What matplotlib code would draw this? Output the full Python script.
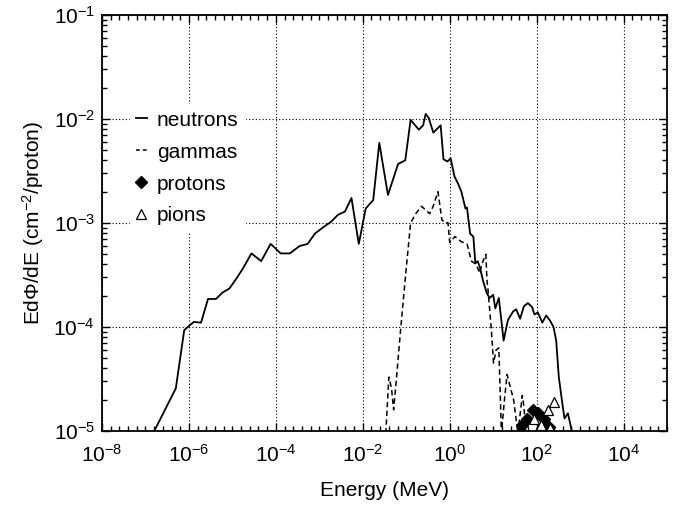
import numpy as np
import matplotlib
matplotlib.use("Agg")
import matplotlib.pyplot as plt
from matplotlib.ticker import FixedLocator, LogFormatterSciNotation, NullFormatter
from matplotlib.lines import Line2D

plt.rcParams["font.family"] = ["Liberation Sans", "DejaVu Sans"]
plt.rcParams["mathtext.default"] = "regular"

# neutron spectrum
neutron_e = [1.5e-7, 5.0e-7, 7.8e-7, 8.9e-7, 1.3e-6, 1.9e-6, 2.75e-6, 4.2e-6, 5.9e-6, 8.5e-6,
             1.26e-5, 1.78e-5, 2.75e-5, 4.6e-5, 7.6e-5, 1.29e-4, 2.1e-4, 3.5e-4, 5.4e-4, 7.9e-4,
             1.23e-3, 1.82e-3, 2.7e-3, 3.9e-3, 5.5e-3, 8.1e-3, 1.17e-2, 1.74e-2, 2.4e-2, 3.8e-2,
             6.5e-2, 9.5e-2, 0.126, 0.195, 0.245, 0.28, 0.33, 0.42, 0.62, 0.72,
             0.89, 1.05, 1.29, 1.55, 1.86, 2.3, 2.5, 2.95, 3.5, 3.9,
             4.4, 4.9, 5.9, 7.2, 8.3, 10.0, 11.2, 13.5, 17.4, 21.9,
             28.8, 33.9, 41.7, 51.0, 63.0, 79.0, 89.0, 107.0, 135.0, 166.0,
             204.0, 245.0, 282.0, 324.0, 389.0, 437.0, 525.0, 661.0]
neutron_flux = [9.5e-6, 2.57e-5, 9.3e-5, 9.8e-5, 1.12e-4, 1.10e-4, 1.86e-4, 1.86e-4, 2.14e-4, 2.34e-4,
                2.95e-4, 3.7e-4, 5.1e-4, 4.3e-4, 6.3e-4, 5.1e-4, 5.1e-4, 6.0e-4, 6.3e-4, 7.9e-4,
                9.1e-4, 1.02e-3, 1.20e-3, 1.29e-3, 1.74e-3, 6.3e-4, 1.38e-3, 1.66e-3, 5.9e-3, 1.86e-3,
                3.7e-3, 4.0e-3, 9.8e-3, 7.9e-3, 8.7e-3, 1.12e-2, 1.02e-2, 7.4e-3, 8.7e-3, 4.1e-3,
                3.9e-3, 4.2e-3, 2.8e-3, 2.4e-3, 2.0e-3, 1.38e-3, 1.41e-3, 7.9e-4, 7.4e-4, 4.1e-4,
                4.3e-4, 3.8e-4, 2.75e-4, 2.1e-4, 1.9e-4, 2.04e-4, 1.51e-4, 1.9e-4, 7.4e-5, 1.17e-4,
                1.41e-4, 1.48e-4, 1.20e-4, 1.58e-4, 1.70e-4, 1.55e-4, 1.32e-4, 1.38e-4, 1.10e-4, 1.29e-4,
                1.15e-4, 1.0e-4, 7.4e-5, 3.3e-5, 1.86e-5, 1.32e-5, 1.48e-5, 9.5e-6]

# gamma spectrum
gamma_e = [0.0339, 0.0398, 0.0457, 0.0513, 0.0575, 0.0741, 0.0977, 0.126, 0.166, 0.224,
           0.282, 0.347, 0.417, 0.537, 0.661, 0.813, 0.912, 1.0, 1.32, 1.86,
           2.51, 3.16, 4.07, 4.9, 5.6, 6.8, 7.2, 7.6, 9.1, 10.2,
           11.7, 13.5, 15.5, 18.2, 20.9, 24.5, 29.5, 37.2, 46.8, 51.3, 56.2]
gamma_flux = [9.5e-6, 3.3e-5, 2.6e-5, 1.6e-5, 2.7e-5, 9.3e-5, 3.3e-4, 1.0e-3, 1.23e-3, 1.45e-3,
              1.33e-3, 1.23e-3, 1.45e-3, 2.0e-3, 1.07e-3, 1.0e-3, 1.01e-3, 6.5e-4, 7.4e-4, 6.6e-4,
              6.3e-4, 4.3e-4, 4.0e-4, 3.3e-4, 4.1e-4, 5.0e-4, 2.8e-4, 2.3e-4, 9.3e-5, 4.5e-5,
              6.0e-5, 6.3e-5, 9.5e-6, 2.0e-5, 3.5e-5, 2.7e-5, 2.0e-5, 9.5e-6, 2.2e-5, 1.7e-5, 9.5e-6]

# proton and pion points
proton_e = [45.0, 59.0, 81.0, 105.0, 145.0, 191.0]
proton_flux = [1.15e-5, 1.3e-5, 1.58e-5, 1.48e-5, 1.29e-5, 1.1e-5]
pion_e = [85.0, 112.0, 129.0, 178.0, 200.0, 257.0]
pion_flux = [1.3e-5, 1.07e-5, 1.15e-5, 1.58e-5, 1.07e-5, 1.9e-5]

fig = plt.figure(figsize=(6.78, 5.07), dpi=100)
ax = fig.add_axes([0.1504, 0.1499, 0.8334, 0.8205])

dash = (0, (3.5, 2.2))
ax.plot(neutron_e, neutron_flux, color="black", lw=1.3)
ax.plot(gamma_e, gamma_flux, color="black", lw=1.1, ls=dash)
ax.plot(proton_e, proton_flux, ls="none", marker="D", ms=6.5, color="black")
ax.plot(pion_e, pion_flux, ls="none", marker="^", ms=7.5, mfc="white", mec="black", mew=0.9)

ax.set_xscale("log")
ax.set_yscale("log")
ax.set_xlim(1e-8, 1e5)
ax.set_ylim(1e-5, 1e-1)

ax.xaxis.set_major_locator(FixedLocator(10.0 ** np.arange(-8, 5, 2)))
xminor = [10.0 ** v for v in np.arange(-8, 5.01, 0.2) if abs(v / 2 - round(v / 2)) > 1e-6]
ax.xaxis.set_minor_locator(FixedLocator(xminor))
ax.xaxis.set_major_formatter(LogFormatterSciNotation())
ax.xaxis.set_minor_formatter(NullFormatter())
ax.yaxis.set_major_locator(FixedLocator(10.0 ** np.arange(-5, 0)))
yminor = [m * 10.0 ** d for d in range(-5, -1) for m in range(2, 10)]
ax.yaxis.set_minor_locator(FixedLocator(yminor))
ax.yaxis.set_minor_formatter(NullFormatter())

ax.tick_params(which="both", direction="in", top=True, right=True, labelsize=15, width=1.0)
ax.tick_params(which="major", length=6)
ax.tick_params(axis="x", which="major", pad=9)
ax.tick_params(axis="y", which="major", pad=5)
ax.tick_params(which="minor", length=3.5)
for s in ax.spines.values():
    s.set_linewidth(1.3)

ax.grid(True, which="major", ls=(0, (1, 2)), color="black", lw=0.8)

ax.set_xlabel("Energy (MeV)", fontsize=15, labelpad=11)
ax.set_ylabel("EdΦ/dE (cm$^{-2}$/proton)", fontsize=15, labelpad=5)

handles = [
    Line2D([], [], color="black", lw=1.3),
    Line2D([], [], color="black", lw=1.1, ls=(0, (2.5, 2))),
    Line2D([], [], ls="none", marker="D", ms=6.5, color="black"),
    Line2D([], [], ls="none", marker="^", ms=7.5, mfc="white", mec="black", mew=0.9),
]
leg = ax.legend(handles, ["neutrons", "gammas", "protons", "pions"], loc="upper left",
                bbox_to_anchor=(0.031, 0.81), fontsize=15, handlelength=0.5, handletextpad=0.5,
                labelspacing=0.62, frameon=True, fancybox=False, framealpha=1,
                edgecolor="white", facecolor="white", borderpad=0.3)

fig.savefig("out.png", dpi=100)
